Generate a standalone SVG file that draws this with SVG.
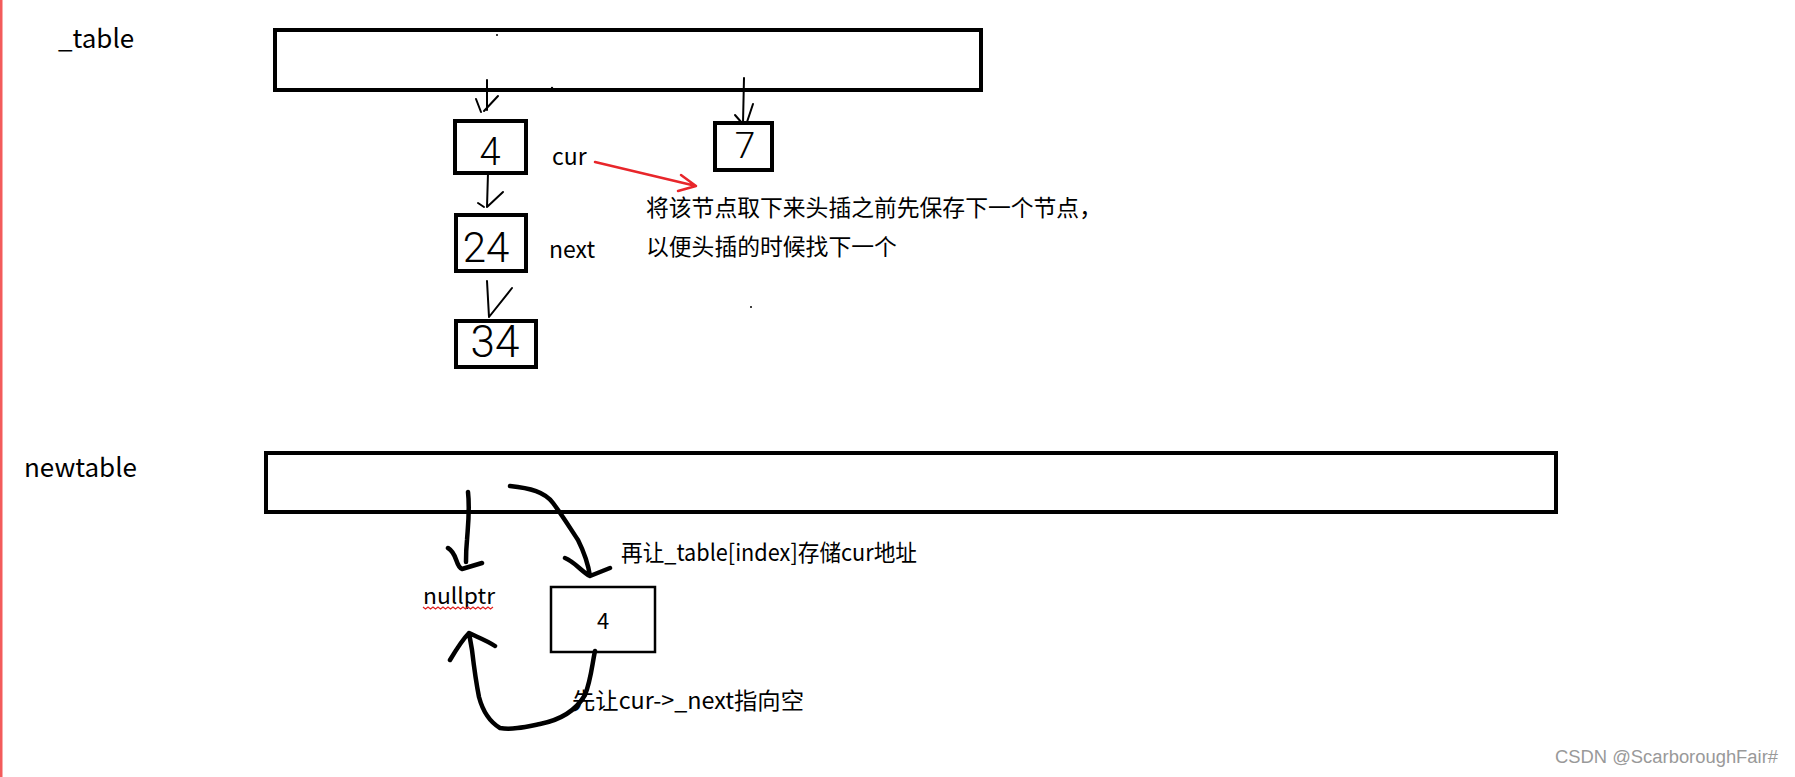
<svg xmlns="http://www.w3.org/2000/svg" width="1795" height="777" viewBox="0 0 1795 777">
<style>
.box{fill:none;stroke:#000;stroke-width:4}
.thin{fill:none;stroke:#000;stroke-width:2.5}
.lbl{font-family:"Noto Sans CJK SC","Noto Sans",sans-serif;fill:#000}
.hand{font-family:Roboto,"Liberation Sans",sans-serif;font-weight:300;fill:#000;text-anchor:middle}
.pen{fill:none;stroke:#000;stroke-width:2;stroke-linecap:round;stroke-linejoin:round}
.marker{fill:none;stroke:#000;stroke-width:4.5;stroke-linecap:round;stroke-linejoin:round}
.red{fill:none;stroke:#e8262b;stroke-width:2.5;stroke-linecap:round;stroke-linejoin:round}
</style>
<rect x="0" y="0" width="1795" height="777" fill="#fff"/>
<rect x="0" y="0" width="2.5" height="777" fill="#f35b5b"/>

<g id="label-table"><text class="lbl" x="58" y="48" font-size="26">_table</text></g>
<g id="label-newtable"><text class="lbl" x="24" y="477" font-size="26">newtable</text></g>

<g id="table"><rect class="box" x="275" y="30" width="706" height="60"/></g>
<g id="node-4"><rect class="box" x="455" y="121" width="71" height="52"/><text class="hand" x="490" y="165" font-size="38">4</text></g>
<g id="node-24"><rect class="box" x="456" y="215" width="70" height="56"/><text class="hand" x="486" y="262" font-size="42">24</text></g>
<g id="node-34"><rect class="box" x="456" y="321" width="80" height="46"/><text class="hand" x="495" y="357" font-size="44">34</text></g>
<g id="node-7"><rect class="box" x="715" y="123" width="57" height="47"/><text class="hand" x="745" y="158" font-size="37">7</text></g>

<g id="label-cur"><text class="lbl" x="552" y="165" font-size="23">cur</text></g>
<g id="label-next"><text class="lbl" x="549" y="258" font-size="23">next</text></g>
<g id="note-top">
<text class="lbl" x="646" y="216" font-size="22.8">将该节点取下来头插之前先保存下一个节点，</text>
<text class="lbl" x="646" y="255" font-size="22.8">以便头插的时候找下一个</text>
</g>

<g id="newtable"><rect class="box" x="266" y="453" width="1290" height="59"/></g>
<g id="nullptr">
<text class="lbl" x="423" y="604" font-size="22" textLength="72" lengthAdjust="spacingAndGlyphs">nullptr</text>
<path d="M423,607 l2.5,2 l2.5,-2 l2.5,2 l2.5,-2 l2.5,2 l2.5,-2 l2.5,2 l2.5,-2 l2.5,2 l2.5,-2 l2.5,2 l2.5,-2 l2.5,2 l2.5,-2 l2.5,2 l2.5,-2 l2.5,2 l2.5,-2 l2.5,2 l2.5,-2 l2.5,2 l2.5,-2 l2.5,2 l2.5,-2 l2.5,2 l2.5,-2 l2.5,2 l2.5,-2" fill="none" stroke="#e02020" stroke-width="1.2"/>
</g>
<g id="node-new-4"><rect class="thin" x="551" y="587" width="104" height="65"/><text class="lbl" x="603" y="629" font-size="22" text-anchor="middle">4</text></g>
<g id="note-store"><text class="lbl" x="621" y="561" font-size="23" textLength="296" lengthAdjust="spacingAndGlyphs">再让_table[index]存储cur地址</text></g>
<g id="note-null"><text class="lbl" x="572" y="709" font-size="23" textLength="232" lengthAdjust="spacingAndGlyphs">先让cur-&gt;_next指向空</text></g>

<g id="watermark"><text x="1555" y="763" font-family="Liberation Sans,Arial,sans-serif" font-size="18" fill="#999" textLength="223" lengthAdjust="spacingAndGlyphs">CSDN @ScarboroughFair#</text></g>

<g id="connectors">
<path class="pen" d="M487,80 L487,110 M476,99 L481,112 M498,96 L484,111"/>
<path class="pen" d="M488,173 L487,207 M478,203 L484,207 M503,192 L487,207"/>
<path class="pen" d="M487,281 L489,317 M512,288 L489,317"/>
<path class="pen" d="M744,78 L743,123 M735,115 L742,123 M753,104 L747,122"/>
<path class="red" d="M595,162 L696,186 M681,175 L696,186 L678,191"/>
<path class="marker" d="M468,492 C470,510 468,525 467,540 C466,550 466,556 466,562 M448,548 C458,554 455,566 462,569 L482,563"/>
<path class="marker" d="M510,486 C530,488 545,492 553,503 C562,515 570,528 578,540 C584,552 588,563 590,576 M565,558 C575,562 582,572 590,576 L610,568"/>
<path class="marker" d="M595,651 C592,665 591,680 585,695 C575,712 560,720 540,724 C525,727 512,730 500,728 C490,722 483,712 479,697 C476,682 474,667 472,650 L469,633 M450,660 C456,650 462,640 469,633 C477,637 486,640 495,646"/>
<circle cx="497" cy="35" r="1" fill="#000"/>
<circle cx="552" cy="88" r="1.2" fill="#000"/>
<circle cx="751" cy="307" r="1" fill="#000"/>
</g>
</svg>
